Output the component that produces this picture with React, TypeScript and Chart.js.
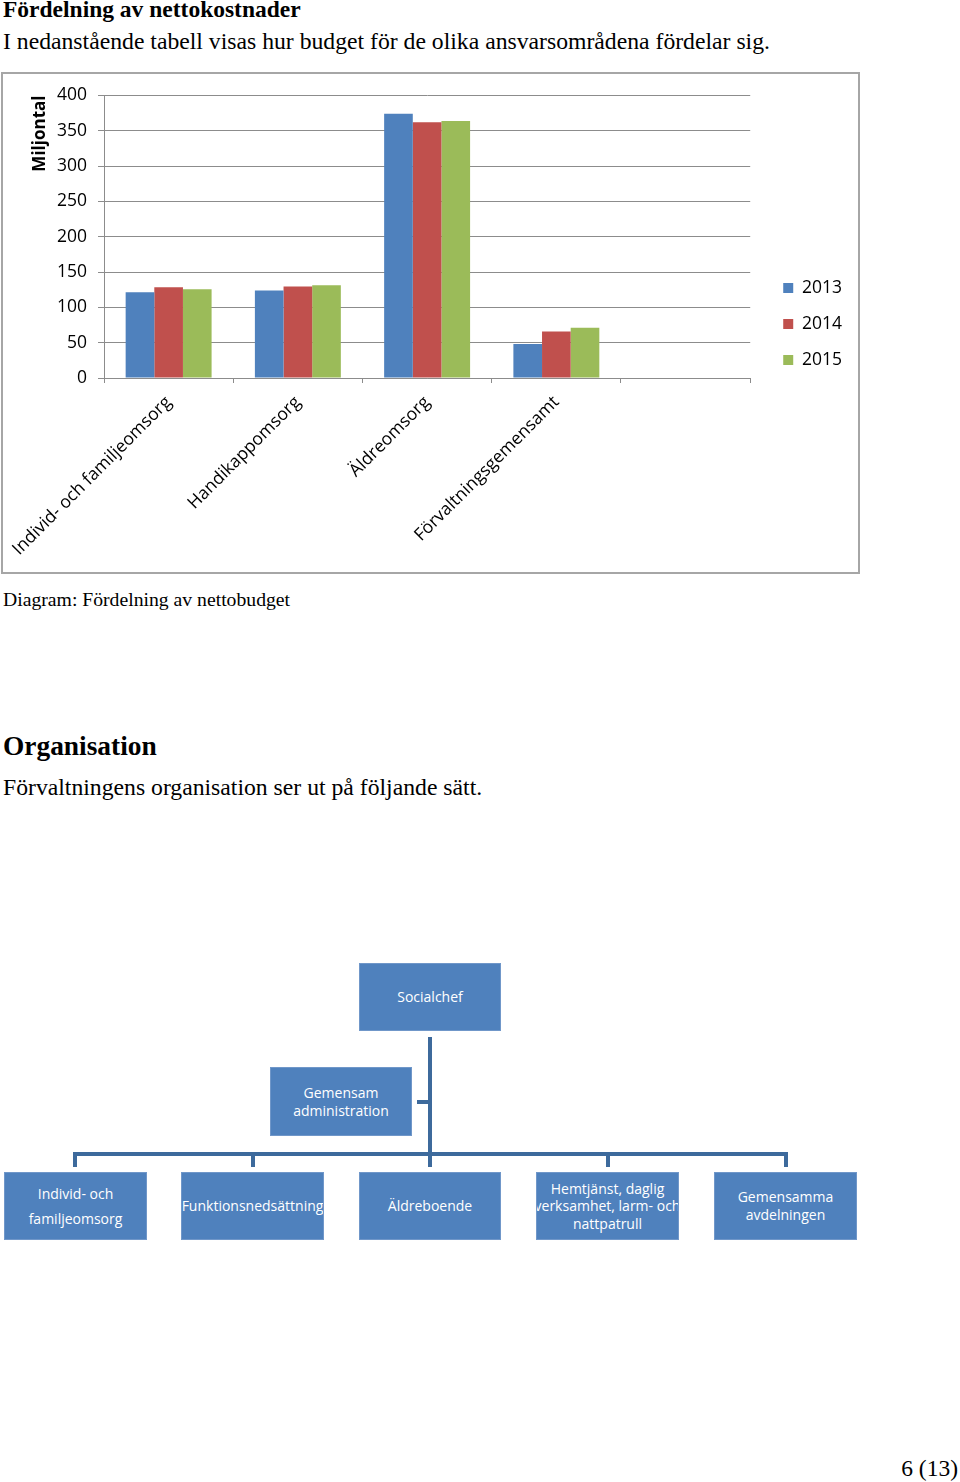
import React, { useEffect, useRef } from "react";
import { Chart, registerables } from "chart.js";

Chart.register(...registerables);

const categories = [
  "Individ- och familjeomsorg",
  "Handikappomsorg",
  "Äldreomsorg",
  "Förvaltningsgemensamt",
  "",
];
const years = ["2013", "2014", "2015"];
const values2013 = [121.5, 124, 374, 48];
const values2014 = [128.5, 129.5, 362, 66];
const values2015 = [125.5, 131.5, 364, 71];
const yTicksMax = 400;
const yTickStep = 50;
const yAxisTitle = "Miljontal";
const barColors = ["#4F81BD", "#C0504D", "#9BBB59"];

const CHART_FONT = "'Open Sans', 'Noto Sans', sans-serif";
const SERIF = "'Liberation Serif', 'Times New Roman', serif";
const ORG_FONT = "'Open Sans', 'Noto Sans', sans-serif";
const GRID = "#8c8c8c";
const LINE = "#3D6A9C";
const BOX = "#4F81BD";
const FS = 17.5;

const LEG_DX = 14.5;
const LEG_DY = -9;

function BudgetChart() {
  const ref = useRef<HTMLCanvasElement | null>(null);
  useEffect(() => {
    if (!ref.current) return;
    const legendShift = {
      id: "legendShift",
      afterLayout(chart: any) {
        const l = chart.legend;
        if (l) {
          l.left += LEG_DX;
          l.right += LEG_DX;
          l.top += LEG_DY;
          l.bottom += LEG_DY;
        }
      },
    };
    const chart = new Chart(ref.current, {
      type: "bar",
      data: {
        labels: categories,
        datasets: [values2013, values2014, values2015].map((v, i) => ({
          label: years[i],
          data: v,
          backgroundColor: barColors[i],
          borderWidth: 0,
          categoryPercentage: 0.665,
          barPercentage: 1,
        })),
      },
      options: {
        animation: false,
        responsive: false,
        maintainAspectRatio: false,
        devicePixelRatio: 1,
        layout: { padding: { top: 20, left: 0, bottom: 0, right: 20.5 } },
        plugins: {
          tooltip: { enabled: false },
          legend: {
            display: true,
            position: "right",
            labels: {
              boxWidth: 10,
              boxHeight: 10,
              padding: 18.5,
              color: "#000",
              font: { family: CHART_FONT, size: FS },
            },
          },
        },
        scales: {
          x: {
            offset: true,
            grid: {
              display: true,
              drawOnChartArea: false,
              drawTicks: true,
              tickLength: 5,
              color: GRID,
              offset: true,
            },
            border: { display: true, color: GRID, width: 1 },
            ticks: {
              autoSkip: false,
              maxRotation: 45,
              minRotation: 45,
              padding: 9,
              color: "#000",
              font: { family: CHART_FONT, size: FS },
            },
            afterFit: (scale: any) => {
              scale.height = 194;
              scale.paddingLeft = 0;
              scale.paddingRight = 0;
            },
          },
          y: {
            min: 0,
            max: yTicksMax,
            ticks: {
              stepSize: yTickStep,
              padding: 11,
              color: "#000",
              font: { family: CHART_FONT, size: FS },
            },
            grid: { color: GRID, tickLength: 6, lineWidth: 1 },
            border: { display: true, color: GRID, width: 1 },
            title: {
              display: true,
              text: yAxisTitle,
              align: "end",
              color: "#000",
              font: { family: CHART_FONT, size: 17, weight: "bold" },
              padding: { top: 27, bottom: 0 },
            },
            afterFit: (scale: any) => {
              scale.width = 101;
            },
          },
        },
      } as any,
      plugins: [legendShift],
    });
    return () => chart.destroy();
  }, []);
  return <canvas ref={ref} width={855} height={498} style={{ display: "block", width: 855, height: 498 }} />;
}

type Box = { x: number; y: number; w: number; h: number; lines: string[]; lh: number };

const orgBoxes: Box[] = [
  { x: 359, y: 963, w: 142, h: 68, lines: ["Socialchef"], lh: 18 },
  { x: 270, y: 1067, w: 142, h: 69, lines: ["Gemensam", "administration"], lh: 18 },
  { x: 4, y: 1172, w: 143, h: 68, lines: ["Individ- och", "familjeomsorg"], lh: 25 },
  { x: 181, y: 1172, w: 143, h: 68, lines: ["Funktionsnedsättning"], lh: 18 },
  { x: 359, y: 1172, w: 142, h: 68, lines: ["Äldreboende"], lh: 18 },
  { x: 536, y: 1172, w: 143, h: 68, lines: ["Hemtjänst, daglig", "verksamhet, larm- och", "nattpatrull"], lh: 17.5 },
  { x: 714, y: 1172, w: 143, h: 68, lines: ["Gemensamma", "avdelningen"], lh: 18 },
];

const orgLines = [
  { x: 428, y: 1037, w: 4, h: 130 },
  { x: 73, y: 1152, w: 715, h: 4 },
  { x: 73, y: 1152, w: 4, h: 15 },
  { x: 250.5, y: 1152, w: 4, h: 15 },
  { x: 605.5, y: 1152, w: 4, h: 15 },
  { x: 784, y: 1152, w: 4, h: 15 },
  { x: 417, y: 1100, w: 13, h: 4 },
];

export default function App() {
  const abs = (l: number, t: number): React.CSSProperties => ({ position: "absolute", left: l, top: t, margin: 0, whiteSpace: "nowrap" });
  return (
    <div style={{ position: "absolute", left: 0, top: 0, width: 960, height: 1482, background: "#fff", fontFamily: SERIF, color: "#000", overflow: "hidden" }}>
      <div style={{ ...abs(3, -2), fontSize: 23.5, lineHeight: "23.5px", fontWeight: "bold" }}>Fördelning av nettokostnader</div>
      <div style={{ ...abs(3, 30), fontSize: 23.7, lineHeight: "23.7px" }}>
        I nedanstående tabell visas hur budget för de olika ansvarsområdena fördelar sig.
      </div>
      <div style={{ position: "absolute", left: 1, top: 72, width: 859, height: 502, border: "2px solid #a6a6a6", boxSizing: "border-box" }}>
        <BudgetChart />
      </div>
      <div style={{ ...abs(3, 589.5), fontSize: 19.7, lineHeight: "19.7px" }}>Diagram: Fördelning av nettobudget</div>
      <div style={{ ...abs(3, 733), fontSize: 27.4, lineHeight: "27.4px", fontWeight: "bold" }}>Organisation</div>
      <div style={{ ...abs(3, 775.5), fontSize: 23.7, lineHeight: "23.7px" }}>Förvaltningens organisation ser ut på följande sätt.</div>

      {orgLines.map((l, i) => (
        <div key={"l" + i} style={{ position: "absolute", left: l.x, top: l.y, width: l.w, height: l.h, background: LINE }} />
      ))}
      {orgBoxes.map((b, i) => (
        <div
          key={"b" + i}
          style={{
            position: "absolute",
            left: b.x,
            top: b.y,
            width: b.w,
            height: b.h,
            background: BOX,
            border: "1px solid #7097c9",
            boxSizing: "border-box",
            display: "flex",
            flexDirection: "column",
            justifyContent: "center",
            alignItems: "center",
            overflow: "hidden",
            color: "#fff",
            fontFamily: ORG_FONT,
            fontSize: 14,
          }}
        >
          {b.lines.map((t, j) => (
            <div key={j} style={{ lineHeight: b.lh + "px", whiteSpace: "nowrap", textAlign: "center" }}>{t}</div>
          ))}
        </div>
      ))}

      <div style={{ position: "absolute", right: 2, top: 1457, fontSize: 23.5, lineHeight: "23.5px", whiteSpace: "nowrap" }}>6 (13)</div>
    </div>
  );
}
